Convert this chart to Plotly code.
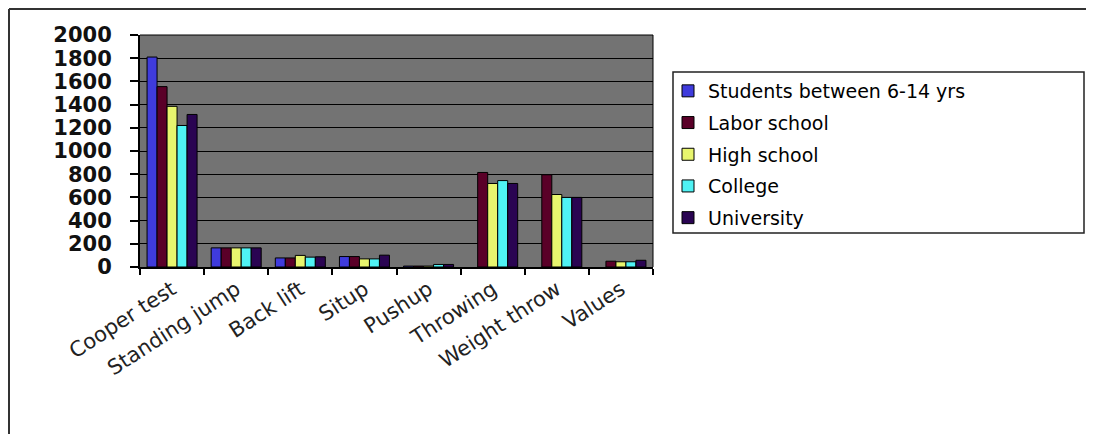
import plotly.graph_objects as go

categories = ["Cooper test", "Standing jump", "Back lift", "Situp", "Pushup",
              "Throwing", "Weight throw", "Values"]
students = [1810, 165, 78, 90, 8, None, None, None]
labor = [1555, 165, 78, 90, 8, 815, 795, 50]
high = [1385, 165, 100, 70, 8, 720, 625, 45]
college = [1220, 165, 85, 70, 22, 745, 600, 45]
university = [1315, 165, 88, 102, 22, 720, 600, 58]

series_names = ["Students between 6-14 yrs", "Labor school", "High school",
                "College", "University"]
series_values = [students, labor, high, college, university]
colors = ["#3f3bdc", "#5a0028", "#e8f56e", "#4ff2f4", "#2a0452"]

fig = go.Figure()
for i, (name, vals, col) in enumerate(zip(series_names, series_values, colors)):
    fig.add_trace(go.Bar(
        x=categories, y=vals, name=name, legendgroup=f"g{i}",
        marker=dict(color=col, line=dict(color="#000000", width=1)),
    ))

W, H = 1094, 434
OFF = 8  # page offset of the figure inside the browser window
# plot area in window pixels
X0, X1, Y0, Y1 = 140, 653, 35, 267
L = X0 - OFF
R = W - (X1 - OFF)
T = Y0 - OFF
B = H - (Y1 - OFF)


def px(x):
    return (x - X0) / (X1 - X0)


def py(y):
    return (Y1 - y) / (Y1 - Y0)


fig.update_layout(
    width=W, height=H,
    margin=dict(l=L, r=R, t=T, b=B, pad=0),
    paper_bgcolor="white",
    plot_bgcolor="#737373",
    barmode="group",
    bargap=0.22,
    bargroupgap=0,
    showlegend=True,
    legend=dict(
        x=px(668), y=py(72), xanchor="left", yanchor="top",
        font=dict(family="DejaVu Sans", size=19, color="#000000"),
        bgcolor="rgba(0,0,0,0)", borderwidth=0,
        tracegroupgap=4, itemwidth=30,
    ),
    xaxis=dict(
        showgrid=False, showline=True, linecolor="#000000", linewidth=2,
        ticks="outside", tickson="boundaries", ticklen=6, tickcolor="#000000",
        tickwidth=2, tickangle=-33,
        tickfont=dict(family="DejaVu Sans", size=21, color="#222222"),
    ),
    yaxis=dict(
        range=[0, 2000], dtick=200, showgrid=True, gridcolor="#000000",
        gridwidth=1, showline=True, linecolor="#000000", linewidth=2,
        ticks="outside", ticklen=8, tickcolor="#000000", tickwidth=2,
        ticklabelstandoff=14,
        tickfont=dict(family="DejaVu Sans", size=21, color="#111111",
                      weight="bold"),
        zeroline=False,
    ),
    shapes=[
        dict(type="line", xref="paper", yref="paper", x0=px(9), x1=px(9),
             y0=py(440), y1=py(9), line=dict(color="#333333", width=2)),
        dict(type="line", xref="paper", yref="paper", x0=px(9), x1=px(1110),
             y0=py(9), y1=py(9), line=dict(color="#333333", width=2)),
        dict(type="rect", xref="paper", yref="paper", x0=px(673), x1=px(1084),
             y0=py(233), y1=py(72), line=dict(color="#222222", width=1.5)),
        dict(type="line", xref="paper", yref="paper", x0=1, x1=1,
             y0=0, y1=1, line=dict(color="#000000", width=1)),
        dict(type="line", xref="paper", yref="paper", x0=0, x1=1,
             y0=1, y1=1, line=dict(color="#000000", width=1)),
    ],
)

fig.write_html("out.html")
